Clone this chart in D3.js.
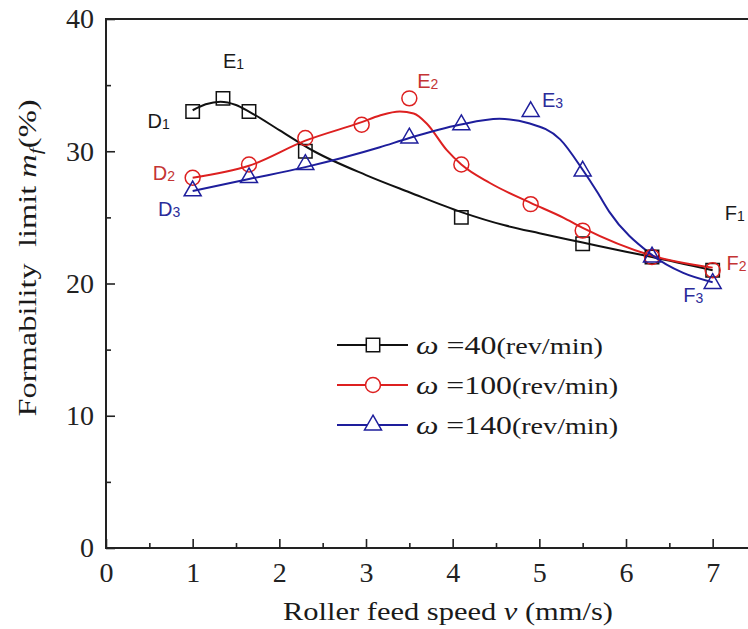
<!DOCTYPE html>
<html>
<head>
<meta charset="utf-8">
<script src="https://cdn.jsdelivr.net/npm/d3@7"></script>
<style>
body { margin: 0; background: #fff; overflow: hidden; }
svg text { font-family: "Liberation Serif", Tinos, "Times New Roman", Times, serif; }
svg text.ptLabel { font-family: "Liberation Sans", Arimo, Arial, sans-serif; }
</style>
</head>
<body>
<svg id="chart" width="748" height="629"></svg>
<script>
// measured points (roller feed speed v, formability limit mf)
var vBlack = [1, 1.35, 1.65, 2.3, 4.1, 5.5, 6.3, 7];
var mfBlack = [33, 34, 33, 30, 25, 23, 22, 21];
var vRed = [1, 1.65, 2.3, 2.95, 3.5, 4.1, 4.9, 5.5, 6.3, 7];
var mfRed = [28, 29, 31, 32, 34, 29, 26, 24, 22, 21];
var vBlue = [1, 1.65, 2.3, 3.5, 4.1, 4.9, 5.5, 6.3, 7];
var mfBlue = [27, 28, 29, 31, 32, 33, 28.5, 22, 20];

// fitted curves
var fitBlackV = [1, 1.15, 1.32, 1.5, 1.65, 2.0, 2.4, 3.0, 3.5, 4.1, 4.6, 5.0, 5.5, 6.0, 6.3, 7];
var fitBlackMf = [33.1, 33.55, 33.75, 33.5, 33.0, 31.6, 30.0, 28.2, 26.9, 25.4, 24.4, 23.8, 23.1, 22.4, 22.0, 21.0];
var fitRedV = [1, 1.65, 2.3, 2.95, 3.16, 3.39, 3.55, 3.7, 3.93, 4.1, 4.43, 4.9, 5.27, 5.5, 6.3, 7];
var fitRedMf = [28.0, 28.9, 30.8, 32.2, 32.7, 33.0, 32.85, 32.1, 30.1, 29.0, 27.6, 26.1, 25.0, 24.2, 22.1, 21.2];
var fitBlueV = [1, 1.65, 2.3, 3.16, 3.5, 4.08, 4.54, 4.89, 5.24, 5.5, 5.67, 5.81, 6.27, 6.66, 7];
var fitBlueMf = [27.0, 27.9, 28.8, 30.3, 31.0, 32.0, 32.45, 32.1, 30.9, 28.6, 26.9, 25.4, 22.3, 20.8, 20.1];

var seriesNames = ["40", "100", "140"];
var seriesColors = ["#111111", "#dd2020", "#1e1e9c"];
var labelColors = ["#1a1a1a", "#c43434", "#2c2c9a"];
var seriesSymbols = [d3.symbolSquare, d3.symbolCircle, d3.symbolTriangle];
var symbolSizes = [180, 175, 125];

// point labels D/E/F with their position in data units
var ptLetters = ["E", "D", "D", "D", "E", "E", "F", "F", "F"];
var ptSubs = ["1", "1", "2", "3", "2", "3", "1", "2", "3"];
var ptV = [1.35, 0.48, 0.54, 0.6, 3.59, 5.03, 7.14, 7.16, 6.66];
var ptMf = [36.3, 31.75, 27.8, 25.1, 34.8, 33.35, 24.8, 21.0, 18.6];
var ptSeries = [0, 0, 1, 2, 1, 2, 0, 1, 2];

var xTicks = [0, 1, 2, 3, 4, 5, 6, 7];
var xMinor = [0.5, 1.5, 2.5, 3.5, 4.5, 5.5, 6.5];
var yTicks = [0, 10, 20, 30, 40];
var yMinor = [5, 15, 25, 35];

var svg = d3.select("#chart");
var margin = {top: 19, left: 106, bottom: 81};
var plotH = 629 - margin.top - margin.bottom;

var x = d3.scaleLinear().domain([0, 7.5]).range([margin.left, margin.left + 650]);
var y = d3.scaleLinear().domain([0, 40]).range([margin.top + plotH, margin.top]);

var series = [
  {pts: d3.zip(vBlack, mfBlack), fit: d3.zip(fitBlackV, fitBlackMf)},
  {pts: d3.zip(vRed, mfRed), fit: d3.zip(fitRedV, fitRedMf)},
  {pts: d3.zip(vBlue, mfBlue), fit: d3.zip(fitBlueV, fitBlueMf)}
];

//Axes, ticks pointing inwards
svg.append("g").attr("transform", "translate(0," + y(0) + ")")
  .call(d3.axisBottom(x).tickValues(xTicks).tickSizeInner(-9).tickSizeOuter(0).tickPadding(14));
svg.append("g").attr("transform", "translate(0," + y(0) + ")")
  .call(d3.axisBottom(x).tickValues(xMinor).tickSizeInner(-5).tickSizeOuter(0).tickFormat(""));
svg.append("g").attr("transform", "translate(" + x(0) + ",0)")
  .call(d3.axisLeft(y).tickValues(yTicks).tickSizeInner(-9).tickSizeOuter(0).tickPadding(12));
svg.append("g").attr("transform", "translate(" + x(0) + ",0)")
  .call(d3.axisLeft(y).tickValues(yMinor).tickSizeInner(-5).tickSizeOuter(0).tickFormat(""));

svg.selectAll(".domain").remove();
svg.selectAll(".tick line").attr("stroke", "#222").attr("stroke-width", 1.6);
svg.selectAll(".tick text")
  .attr("font-size", 28)
  .attr("fill", "#222");

//Frame (right side falls off the picture)
svg.append("rect")
  .attr("x", x(0)).attr("y", y(40))
  .attr("width", x(7.5) - x(0)).attr("height", y(0) - y(40))
  .attr("fill", "none").attr("stroke", "#222").attr("stroke-width", 2);

//Curves
var line = d3.line()
  .x(function(d) { return x(d[0]); })
  .y(function(d) { return y(d[1]); })
  .curve(d3.curveMonotoneX);

series.forEach(function(s, i) {
  svg.append("path")
    .attr("d", line(s.fit))
    .attr("fill", "none")
    .attr("stroke", seriesColors[i])
    .attr("stroke-width", 2);
});

//Markers
series.forEach(function(s, i) {
  svg.append("g").selectAll("path")
    .data(s.pts)
    .enter().append("path")
    .attr("transform", function(d) { return "translate(" + x(d[0]) + "," + y(d[1]) + ")"; })
    .attr("d", d3.symbol().type(seriesSymbols[i]).size(symbolSizes[i]))
    .attr("fill", "none")
    .attr("stroke", seriesColors[i])
    .attr("stroke-width", 1.5);
});

//Point labels
ptLetters.forEach(function(l, i) {
  var t = svg.append("text")
    .attr("class", "ptLabel")
    .attr("x", x(ptV[i])).attr("y", y(ptMf[i]))
    .attr("font-size", 20)
    .attr("fill", labelColors[ptSeries[i]]);
  t.append("tspan").text(l);
  t.append("tspan").attr("font-size", 14).attr("dy", 1).text(ptSubs[i]);
});

//Legend
seriesNames.forEach(function(n, i) {
  var ly = 345 + i * 40;
  svg.append("line")
    .attr("x1", 337).attr("x2", 408).attr("y1", ly).attr("y2", ly)
    .attr("stroke", seriesColors[i]).attr("stroke-width", 2);
  svg.append("path")
    .attr("transform", "translate(373," + ly + ")")
    .attr("d", d3.symbol().type(seriesSymbols[i]).size(symbolSizes[i]))
    .attr("fill", "#fff")
    .attr("stroke", seriesColors[i])
    .attr("stroke-width", 1.5);
  var t = svg.append("text")
    .attr("x", 416).attr("y", ly + 9)
    .attr("font-size", 26).attr("fill", "#1a1a1a")
    .attr("textLength", i === 0 ? 187 : 202)
    .attr("lengthAdjust", "spacingAndGlyphs");
  t.append("tspan").attr("font-style", "italic").text("\u03c9");
  t.append("tspan").text(" =" + n);
  t.append("tspan").attr("font-size", 23).text("(rev/min)");
});

//Axis titles
var xt = svg.append("text")
  .attr("x", 448).attr("y", 620)
  .attr("text-anchor", "middle")
  .attr("font-size", 25).attr("fill", "#1a1a1a")
  .attr("textLength", 330).attr("lengthAdjust", "spacingAndGlyphs");
xt.append("tspan").text("Roller feed speed ");
xt.append("tspan").attr("font-style", "italic").text("v");
xt.append("tspan").text(" (mm/s)");

var yt = svg.append("text")
  .attr("transform", "translate(36,258) rotate(-90)")
  .attr("text-anchor", "middle")
  .attr("font-size", 25).attr("fill", "#1a1a1a")
  .attr("textLength", 317).attr("lengthAdjust", "spacingAndGlyphs");
yt.append("tspan").text("Formability\u00a0\u00a0limit ");
yt.append("tspan").attr("font-style", "italic").text("m");
yt.append("tspan").attr("font-style", "italic").attr("font-size", 17).attr("dy", 5).text("f");
yt.append("tspan").attr("dy", -5).text("(%)");
</script>
</body>
</html>
